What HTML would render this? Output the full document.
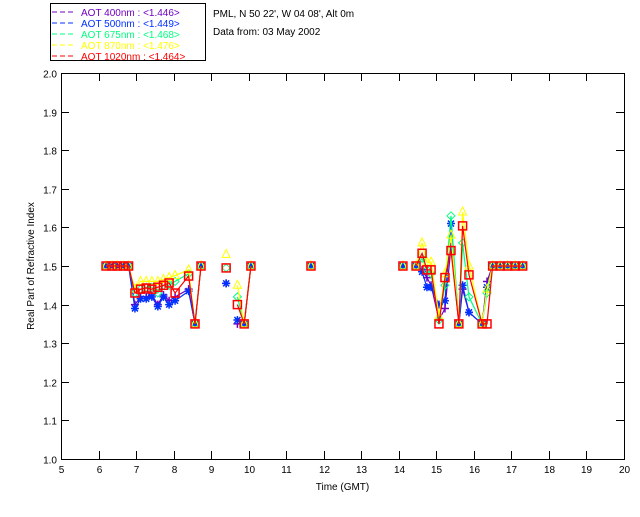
<!DOCTYPE html>
<html><head><meta charset="utf-8">
<style>
body{margin:0;background:#fff;}
svg text{font-family:"Liberation Sans",sans-serif;font-size:10px;}
</style></head>
<body>
<svg id="chart" width="640" height="512" xmlns="http://www.w3.org/2000/svg">
<rect width="640" height="512" fill="#fff"/>
<g id="legend">
<rect x="50.5" y="3.5" width="155" height="57" fill="#fff" stroke="#000"/>
</g>
<text x="213" y="17">PML, N 50 22', W 04 08', Alt 0m</text>
<text x="213" y="35">Data from: 03 May 2002</text>
<g id="axes"></g>
<g id="series"></g>
</svg>
<script>
const times=[6.2,6.36,6.5,6.66,6.8,6.97,7.12,7.27,7.42,7.58,7.73,7.88,8.04,8.4,8.57,8.73,9.4,9.7,9.88,10.06,11.66,14.11,14.46,14.62,14.75,14.86,15.07,15.23,15.39,15.6,15.7,15.87,16.22,16.35,16.5,16.7,16.9,17.1,17.3];
const aot400=[1.5,1.5,1.5,1.5,1.5,1.40,1.42,1.42,1.425,1.40,1.425,1.41,1.42,1.44,1.35,1.5,1.455,1.35,1.35,1.5,1.5,1.5,1.5,1.49,1.47,1.45,1.36,1.39,1.55,1.35,1.44,1.38,1.35,1.46,1.5,1.5,1.5,1.5,1.5];
const aot500=[1.5,1.5,1.5,1.5,1.5,1.39,1.415,1.415,1.42,1.395,1.42,1.40,1.41,1.435,1.35,1.5,1.455,1.36,1.35,1.5,1.5,1.5,1.5,1.485,1.445,1.445,1.40,1.41,1.61,1.35,1.45,1.38,1.35,1.445,1.5,1.5,1.5,1.5,1.5];
const aot675=[1.5,1.5,1.5,1.5,1.5,1.43,1.44,1.445,1.445,1.43,1.45,1.45,1.46,1.48,1.35,1.5,1.495,1.42,1.35,1.5,1.5,1.5,1.5,1.52,1.49,1.48,1.36,1.45,1.63,1.35,1.56,1.42,1.35,1.43,1.5,1.5,1.5,1.5,1.5];
const aot870=[1.5,1.5,1.5,1.5,1.5,1.44,1.46,1.46,1.46,1.46,1.465,1.47,1.475,1.49,1.35,1.5,1.53,1.45,1.35,1.5,1.5,1.5,1.5,1.56,1.51,1.51,1.37,1.48,1.58,1.35,1.64,1.50,1.35,1.44,1.5,1.5,1.5,1.5,1.5];
const aot1020=[1.5,1.5,1.5,1.5,1.5,1.43,1.44,1.443,1.44,1.445,1.45,1.456,1.43,1.474,1.35,1.5,1.495,1.40,1.35,1.5,1.5,1.5,1.5,1.533,1.49,1.49,1.35,1.47,1.54,1.35,1.604,1.477,1.35,1.35,1.5,1.5,1.5,1.5,1.5];
const segmentStarts=[0,16,17,20,21,22];
const xTicks=[5,6,7,8,9,10,11,12,13,14,15,16,17,18,19,20];
const yTicks=[1.0,1.1,1.2,1.3,1.4,1.5,1.6,1.7,1.8,1.9,2.0];
const legendLabels=["AOT  400nm : <1.446>","AOT  500nm : <1.449>","AOT  675nm : <1.468>","AOT  870nm : <1.476>","AOT 1020nm : <1.464>"];
const colors=["#7000c0","#0030ff","#00ff80","#ffff00","#ff0000"];

const NS="http://www.w3.org/2000/svg";
const X0=61,X1=624,Y0=459,Y1=73;
function xs(t){return X0+(t-5)/15*(X1-X0);}
function ys(v){return Y0-(v-1)*(Y0-Y1);}
function mk(tag,attrs,parent){const e=document.createElementNS(NS,tag);for(const k in attrs)e.setAttribute(k,attrs[k]);parent.appendChild(e);return e;}
const axes=document.getElementById('axes');
const frame=mk('rect',{x:X0+.5,y:Y1+.5,width:X1-X0,height:Y0-Y1,fill:'none',stroke:'#000'},axes);


xTicks.forEach(t=>{
  const x=Math.round(xs(t))+.5;
  mk('line',{x1:x,x2:x,y1:Y0,y2:Y0-8,stroke:'#000'},axes);
  mk('line',{x1:x,x2:x,y1:Y1,y2:Y1+8,stroke:'#000'},axes);
  const lb=mk('text',{x:x,y:Y0+14,'text-anchor':'middle'},axes);lb.textContent=t;
  
  
});
yTicks.forEach(v=>{
  const y=Math.round(ys(v))+.5;
  mk('line',{x1:X0,x2:X0+8,y1:y,y2:y,stroke:'#000'},axes);
  mk('line',{x1:X1,x2:X1-8,y1:y,y2:y,stroke:'#000'},axes);
  const lb=mk('text',{x:X0-4,y:y+4,'text-anchor':'end'},axes);lb.textContent=v.toFixed(1);
  
  
});
const xt=mk('text',{x:(X0+X1)/2,y:490,'text-anchor':'middle'},axes);xt.textContent='Time (GMT)';


const yt=mk('text',{x:0,y:0,'text-anchor':'middle',transform:'translate(34,266) rotate(-90)'},axes);yt.textContent='Real Part of Refractive Index';



const leg=document.getElementById('legend');
legendLabels.forEach((l,i)=>{
  const y=12+i*11;
  mk('line',{x1:52,x2:76,y1:y,y2:y,stroke:colors[i],'stroke-dasharray':'5,3'},leg);
  const tx=mk('text',{x:81,y:y+4,fill:colors[i],'xml:space':'preserve'},leg);tx.textContent=l;
  
  
});

const ser=document.getElementById('series');
const data=[aot400,aot500,aot675,aot870,aot1020];
data.forEach((vals,i)=>{
  const g=mk('g',{},ser);
  
  
  let d='';
  times.forEach((t,j)=>{
    const cmd=segmentStarts.includes(j)?'M':'L';
    d+=cmd+xs(t).toFixed(1)+','+ys(vals[j]).toFixed(1);
  });
  mk('path',{d:d,fill:'none',stroke:colors[i],'stroke-width':1.2},g);
  times.forEach((t,j)=>{
    const x=xs(t),y=ys(vals[j]),c=colors[i];
    let m;
    if(i===0){m=mk('path',{d:`M${x-4},${y}H${x+4}M${x},${y-4}V${y+4}`,stroke:c,'stroke-width':1.5,fill:'none'},g);}
    else if(i===1){m=mk('path',{d:`M${x-4},${y}H${x+4}M${x},${y-4}V${y+4}M${x-3},${y-3}L${x+3},${y+3}M${x-3},${y+3}L${x+3},${y-3}`,stroke:c,'stroke-width':1.5,fill:'none'},g);}
    else if(i===2){m=mk('path',{d:`M${x},${y-4}L${x+4},${y}L${x},${y+4}L${x-4},${y}Z`,stroke:c,fill:'none'},g);}
    else if(i===3){m=mk('path',{d:`M${x},${y-5}L${x+4},${y+3}L${x-4},${y+3}Z`,stroke:c,fill:'none'},g);}
    else {m=mk('rect',{x:x-4,y:y-4,width:8,height:8,stroke:c,'stroke-width':1.5,fill:'none'},g);}
    
    
  });
});
</script>
</body></html>
